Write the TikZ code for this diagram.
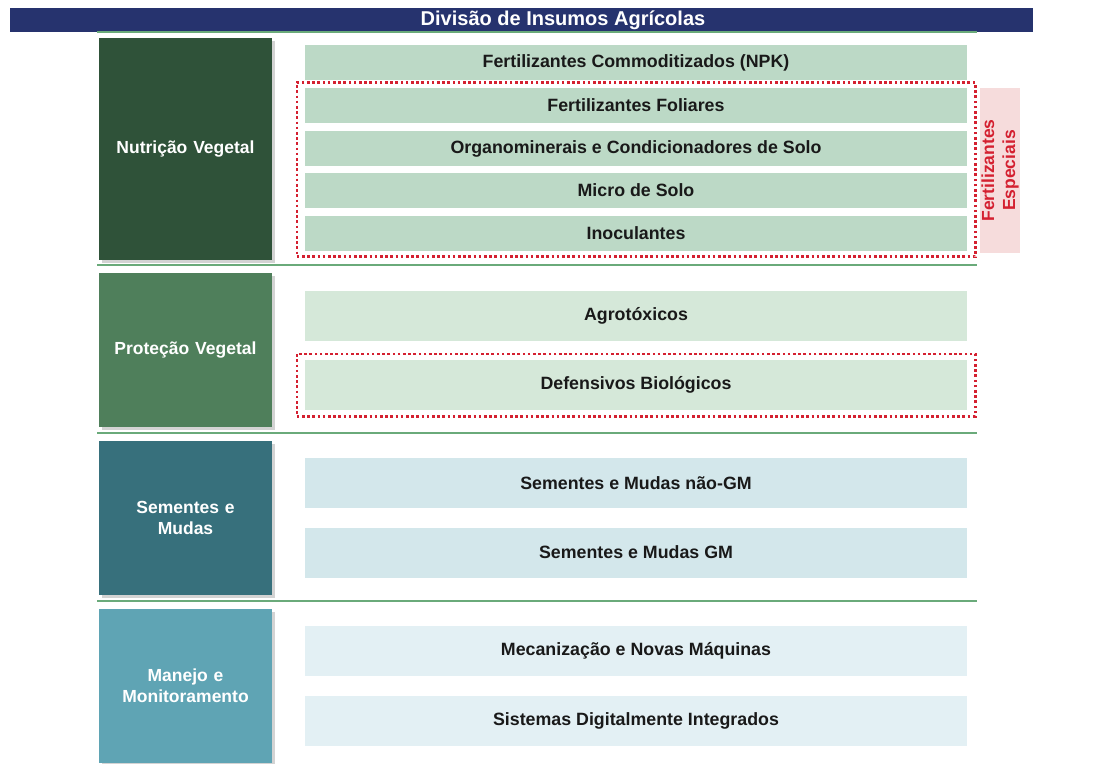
\documentclass[tikz,border=0pt]{standalone}
\usepackage{fontspec}
\setmainfont{Liberation Sans}
\usepackage{tikz}
\usetikzlibrary{shadows,fit}
\definecolor{navy}{HTML}{26336E}
\definecolor{nutri}{HTML}{2F5239}
\definecolor{prot}{HTML}{4F7F5B}
\definecolor{sem}{HTML}{37707C}
\definecolor{man}{HTML}{5FA4B4}
\definecolor{nutrib}{HTML}{BCD9C6}
\definecolor{protb}{HTML}{D5E8D9}
\definecolor{semb}{HTML}{D3E7EB}
\definecolor{manb}{HTML}{E3F0F4}
\definecolor{sepgreen}{HTML}{6AAA7A}
\definecolor{espred}{HTML}{D42030}
\definecolor{esppink}{HTML}{F6DCDC}

\begin{document}
\begin{tikzpicture}[x=1pt,y=-1pt,
    cat/.style={minimum width=173pt,text width=170pt,align=center,inner sep=0pt,
        text=white,font=\bfseries\fontsize{17.5}{21}\selectfont,
        drop shadow={shadow xshift=3pt,shadow yshift=-3pt,opacity=0.35}},
    item/.style={minimum width=662pt,inner sep=0pt,text=black!90,
        font=\bfseries\fontsize{17.8}{20}\selectfont},
    sep/.style={sepgreen,line width=1.5pt},
    esp/.style={espred,line width=2.6pt,dash pattern=on 2.6pt off 2.6pt}]
    \useasboundingbox (0,0) rectangle (1107,763);
    \node[fill=navy,minimum width=1023pt,minimum height=24pt,inner sep=0pt] (barra) at (521.5,20) {};
    \node[text=white,inner sep=0pt,font=\bfseries\fontsize{20}{22}\selectfont] (titulo) at (563,20) {Divisão de Insumos Agrícolas};
    \draw[sep] (97,32) -- (977,32);
    \draw[sep] (97,265) -- (977,265);
    \draw[sep] (97,433) -- (977,433);
    \draw[sep] (97,601) -- (977,601);
    \node[cat,fill=nutri,minimum height=222pt] (nutricao) at (185.5,149) {Nutrição Vegetal};
    \node[cat,fill=prot,minimum height=154pt] (protecao) at (185.5,350) {Proteção Vegetal};
    \node[cat,fill=sem,minimum height=154pt] (sementes) at (185.5,518) {Sementes e\\Mudas};
    \node[cat,fill=man,minimum height=154pt] (manejo) at (185.5,686) {Manejo e\\Monitoramento};
    \node[item,fill=nutrib,minimum height=35pt] (npk) at (636,62.5) {Fertilizantes Commoditizados (NPK)};
    \node[item,fill=nutrib,minimum height=35pt] (foliares) at (636,105.5) {Fertilizantes Foliares};
    \node[item,fill=nutrib,minimum height=35pt] (organo) at (636,148.5) {Organominerais e Condicionadores de Solo};
    \node[item,fill=nutrib,minimum height=35pt] (micro) at (636,190.5) {Micro de Solo};
    \node[item,fill=nutrib,minimum height=35pt] (inoc) at (636,233.5) {Inoculantes};
    \node[item,fill=protb,minimum height=50pt] (agro) at (636,315.5) {Agrotóxicos};
    \node[item,fill=protb,minimum height=50pt] (defensivos) at (636,385) {Defensivos Biológicos};
    \node[item,fill=semb,minimum height=50pt] (naogm) at (636,483) {Sementes e Mudas não-GM};
    \node[item,fill=semb,minimum height=50pt] (gm) at (636,552.5) {Sementes e Mudas GM};
    \node[item,fill=manb,minimum height=50pt] (mecanizacao) at (636,650.5) {Mecanização e Novas Máquinas};
    \node[item,fill=manb,minimum height=50pt] (sistemas) at (636,720.5) {Sistemas Digitalmente Integrados};
    \node[esp,draw,fit=(foliares)(inoc),inner xsep=8pt,inner ysep=5.5pt] (especiais) {};
    \node[esp,draw,fit=(defensivos),inner xsep=8pt,inner ysep=6pt] (biologicos) {};
    \node[fill=esppink,minimum width=40pt,minimum height=165pt,inner sep=0pt] (rotulo) at (1000,170.5) {};
    \node[rotate=90,align=center,inner sep=0pt,text=espred,font=\bfseries\fontsize{17.5}{21}\selectfont] at (rotulo) {Fertilizantes\\Especiais};
\end{tikzpicture}
\end{document}
